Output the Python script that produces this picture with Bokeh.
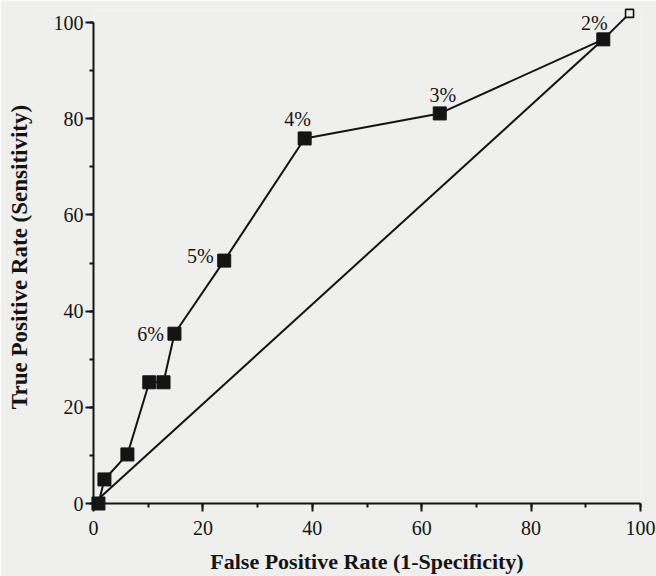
from bokeh.plotting import figure
from bokeh.models import Range1d, SingleIntervalTicker, ColumnDataSource
from bokeh.embed import file_html
from bokeh.resources import INLINE
from bokeh.core.properties import value

# ROC curve data (False Positive Rate, True Positive Rate), in percent
fpr = [0.9, 2.0, 6.2, 10.2, 12.8, 14.8, 23.9, 38.6, 63.3, 93.2]
tpr = [0.0, 5.0, 10.2, 25.2, 25.2, 35.3, 50.5, 75.9, 81.1, 96.5]
end_fpr = [98.0]
end_tpr = [101.9]
diag_fpr = [0.0, 93.2]
diag_tpr = [0.0, 96.5]
cut_labels = ["6%", "5%", "4%", "3%", "2%"]
cut_index = [5, 6, 7, 8, 9]

BG = "#efefee"
INK = "#141414"
SERIF = "Liberation Serif"

p = figure(width=656, height=576, output_backend="svg", toolbar_location=None,
           x_range=Range1d(0, 100), y_range=Range1d(0, 102.5),
           min_border_left=93, min_border_right=16, min_border_top=10, min_border_bottom=73)
p.background_fill_color = BG
p.border_fill_color = BG
p.outline_line_color = None
p.grid.visible = False

for ax in (p.xaxis[0], p.yaxis[0]):
    ax.ticker = SingleIntervalTicker(interval=20, num_minor_ticks=2)
    ax.bounds = (0, 100)
    ax.axis_line_width = 2
    ax.axis_line_color = INK
    ax.major_tick_in = 0
    ax.major_tick_out = 8
    ax.major_tick_line_width = 2
    ax.major_tick_line_color = INK
    ax.minor_tick_in = 0
    ax.minor_tick_out = 4
    ax.minor_tick_line_width = 2
    ax.minor_tick_line_color = INK
    ax.major_label_text_font = SERIF
    ax.major_label_text_font_size = "20px"
    ax.major_label_text_color = INK
    ax.axis_label_text_font = SERIF
    ax.axis_label_text_font_style = "bold"
    ax.axis_label_text_color = INK

p.xaxis[0].axis_label = "False Positive Rate (1-Specificity)"
p.yaxis[0].axis_label = "True Positive Rate (Sensitivity)"
p.xaxis[0].axis_label_text_font_size = "22px"
p.yaxis[0].axis_label_text_font_size = "23px"
p.xaxis[0].major_label_standoff = 9
p.xaxis[0].axis_label_standoff = 11
p.yaxis[0].major_label_standoff = 2
p.yaxis[0].axis_label_standoff = 19

# chance diagonal
p.line(diag_fpr, diag_tpr, line_color=INK, line_width=2, level="overlay")
# ROC curve
p.line(fpr + end_fpr, tpr + end_tpr, line_color=INK, line_width=2, level="overlay")
p.scatter(fpr, tpr, marker="square", size=13, fill_color=INK, line_color=INK, level="overlay")
p.scatter(end_fpr, end_tpr, marker="square", size=8, fill_color=BG, line_color=INK,
          line_width=1.6, level="overlay")

lab_src = ColumnDataSource(dict(
    x=[fpr[i] for i in cut_index],
    y=[tpr[i] for i in cut_index],
    text=cut_labels,
    xo=[-24, -24, -7, 3, -9],
    yo=[0, -5, -19, -18, -16],
))
p.text(x="x", y="y", text="text", x_offset="xo", y_offset="yo", source=lab_src,
       text_font=value(SERIF), text_font_size="20px", text_color=INK,
       text_align="center", text_baseline="middle", level="overlay")

open("out.html", "w").write(file_html(p, INLINE))
